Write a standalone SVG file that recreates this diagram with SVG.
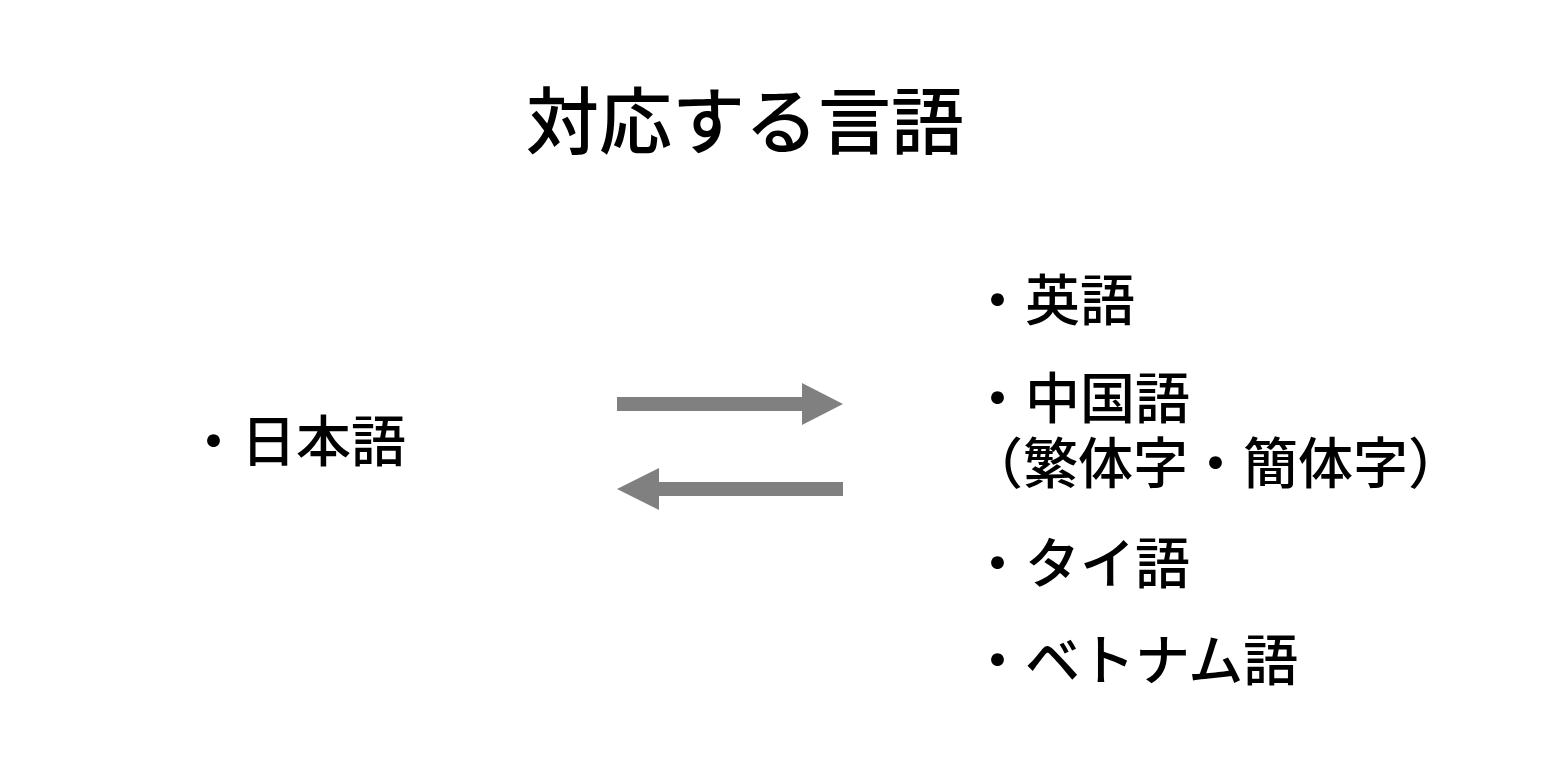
<svg xmlns="http://www.w3.org/2000/svg" width="1552" height="780" viewBox="0 0 1552 780">
<style>
text{font-family:"Noto Sans CJK JP","Noto Sans CJK SC",sans-serif;fill:#000;font-weight:500}
.t{font-size:73px}
.l{font-size:55px}
.arr{fill:#808080}
</style>
<rect width="1552" height="780" fill="#fff"/>
<g id="title"><text class="t" x="745" y="148" text-anchor="middle">対応する言語</text></g>
<g id="source"><text class="l" x="186" y="461">・日本語</text></g>
<g id="connectors">
<polygon class="arr" points="617,397 802,397 802,383 843,404 802,425 802,411 617,411"/>
<polygon class="arr" points="843,482 659,482 659,468 617,489 659,510 659,496 843,496"/>
</g>
<g id="targets">
<text class="l" x="970" y="320">・英語</text>
<text class="l" x="970" y="418">・中国語</text>
<text class="l" x="968" y="483">（繁体字・簡体字）</text>
<text class="l" x="970" y="583">・タイ語</text>
<text class="l" x="970" y="680">・ベトナム語</text>
</g>
</svg>
